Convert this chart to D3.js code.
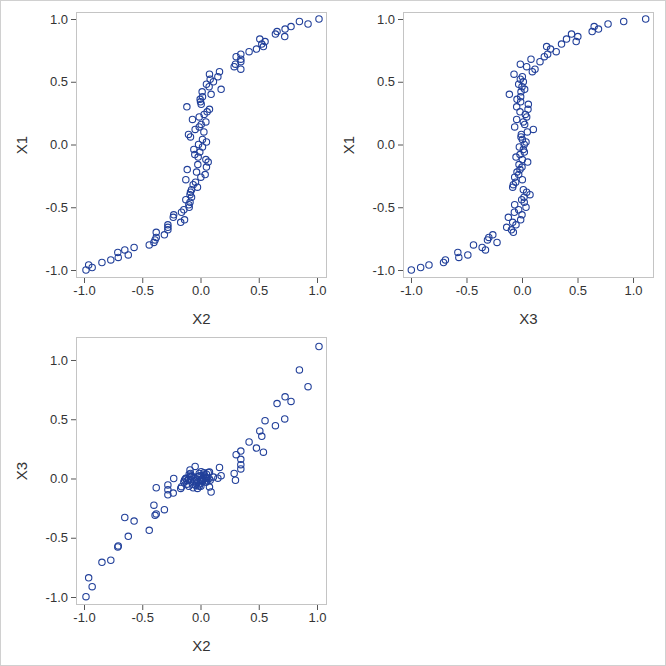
<!DOCTYPE html>
<html><head><meta charset="utf-8">
<script src="https://cdn.jsdelivr.net/npm/d3@7"></script>
<style>body{margin:0;background:#fff;} svg{display:block;}</style>
</head><body>
<script>
const X1 = [-1.00,-0.98,-0.96,-0.94,-0.92,-0.90,-0.88,-0.86,-0.84,-0.82,-0.80,-0.78,-0.76,-0.74,-0.72,-0.70,-0.68,-0.66,-0.64,-0.62,-0.60,-0.58,-0.56,-0.54,-0.52,-0.50,-0.48,-0.46,-0.44,-0.42,-0.40,-0.38,-0.36,-0.34,-0.32,-0.30,-0.28,-0.26,-0.24,-0.22,-0.20,-0.18,-0.16,-0.14,-0.12,-0.10,-0.08,-0.06,-0.04,-0.02,0.00,0.02,0.04,0.06,0.08,0.10,0.12,0.14,0.16,0.18,0.20,0.22,0.24,0.26,0.28,0.30,0.32,0.34,0.36,0.38,0.40,0.42,0.44,0.46,0.48,0.50,0.52,0.54,0.56,0.58,0.60,0.62,0.64,0.66,0.68,0.70,0.72,0.74,0.76,0.78,0.80,0.82,0.84,0.86,0.88,0.90,0.92,0.94,0.96,0.98,1.00];
const X2 = [-0.983,-0.93,-0.96,-0.846,-0.77,-0.706,-0.62,-0.71,-0.65,-0.57,-0.44,-0.40,-0.39,-0.38,-0.31,-0.38,-0.28,-0.28,-0.28,-0.17,-0.137,-0.234,-0.23,-0.163,-0.143,-0.097,-0.10,-0.09,-0.126,-0.077,-0.09,-0.086,-0.077,-0.026,-0.063,-0.043,-0.126,0.003,0.04,-0.034,-0.114,0.051,-0.023,0.066,0.046,-0.02,-0.049,-0.006,-0.057,0.017,-0.017,0.051,0.017,-0.086,-0.103,0.029,-0.046,-0.011,0.006,0.046,-0.069,-0.011,0.031,0.057,0.077,-0.117,0.006,0.0,-0.003,0.017,0.091,0.014,0.177,0.074,0.051,0.111,0.083,0.149,0.077,0.163,0.346,0.289,0.30,0.346,0.346,0.306,0.346,0.417,0.48,0.54,0.526,0.554,0.509,0.723,0.643,0.657,0.726,0.777,0.923,0.849,1.017];
const X3 = [-0.997,-0.913,-0.838,-0.707,-0.69,-0.569,-0.488,-0.578,-0.329,-0.359,-0.437,-0.225,-0.311,-0.299,-0.263,-0.078,-0.096,-0.138,-0.054,-0.084,-0.012,-0.123,0.0,-0.069,-0.03,0.036,-0.066,0.02,-0.003,0.018,0.072,0.042,0.012,-0.084,-0.078,-0.057,0.003,-0.066,-0.03,-0.045,-0.018,0.0,-0.027,0.051,0.003,-0.054,-0.018,0.021,0.012,-0.024,0.02,0.036,0.003,-0.009,-0.006,0.048,0.102,-0.066,0.024,0.012,-0.048,0.042,0.03,-0.018,0.054,-0.048,0.057,-0.012,-0.045,-0.012,-0.114,-0.009,0.024,0.0,-0.03,0.012,-0.015,0.003,-0.072,0.093,0.117,0.042,-0.015,0.162,0.081,0.201,0.231,0.308,0.257,0.222,0.356,0.488,0.401,0.503,0.446,0.632,0.689,0.65,0.775,0.916,1.114];
const tickValues = [-1.0,-0.5,0.0,0.5,1.0];
const tickLabels = ["-1.0","-0.5","0.0","0.5","1.0"];

const W = 666, H = 666;
const svg = d3.select("body").append("svg").attr("width", W).attr("height", H);
const FONT = "'Liberation Sans', Arial, sans-serif";
const MARK = "#22409a";

svg.append("rect").attr("x",0.5).attr("y",0.5).attr("width",W-1).attr("height",H-1)
  .attr("fill","#fff").attr("stroke","#d0d0d0");

function panel(xs, ys, box, xDom, yDom, xLab, yLab) {
  const x = d3.scaleLinear().domain(xDom).range([box.l, box.r]);
  const y = d3.scaleLinear().domain(yDom).range([box.b, box.t]);
  const g = svg.append("g");
  g.append("rect").attr("x", box.l + 0.5).attr("y", box.t + 0.5)
    .attr("width", box.r - box.l - 1).attr("height", box.b - box.t - 1)
    .attr("fill", "#fff").attr("stroke", "#c4c4c4");
  const fmt = d => tickLabels[tickValues.indexOf(d)];
  const ax = g.append("g").attr("transform", `translate(0,${box.b})`)
    .call(d3.axisBottom(x).tickValues(tickValues).tickFormat(fmt).tickSize(5).tickPadding(3));
  const ay = g.append("g").attr("transform", `translate(${box.l},0)`)
    .call(d3.axisLeft(y).tickValues(tickValues).tickFormat(fmt).tickSize(5).tickPadding(3));
  [ax, ay].forEach(a => {
    a.select(".domain").remove();
    a.selectAll("line").attr("stroke", "#555");
    a.selectAll("text").attr("font-family", FONT).attr("font-size", 13).attr("fill", "#333");
  });
  g.append("text").attr("x", (box.l + box.r) / 2).attr("y", box.b + 46)
    .attr("text-anchor", "middle").attr("font-family", FONT).attr("font-size", 15)
    .attr("fill", "#333").text(xLab);
  g.append("text").attr("transform", `translate(${box.l - 49},${(box.t + box.b) / 2}) rotate(-90)`)
    .attr("text-anchor", "middle").attr("font-family", FONT).attr("font-size", 15)
    .attr("fill", "#333").text(yLab);
  g.append("g").selectAll("circle").data(xs.map((v, i) => [v, ys[i]])).join("circle")
    .attr("cx", d => x(d[0])).attr("cy", d => y(d[1])).attr("r", 3.2)
    .attr("fill", "none").attr("stroke", MARK).attr("stroke-width", 1.1);
}

panel(X2, X1, {l:76, r:327, t:12, b:278}, [-1.0687, 1.0858], [-1.0637, 1.0558], "X2", "X1");
panel(X3, X1, {l:403, r:654, t:12, b:278}, [-1.072, 1.189], [-1.0637, 1.0558], "X3", "X1");
panel(X2, X3, {l:76, r:327, t:337, b:605}, [-1.0687, 1.0858], [-1.0675, 1.194], "X2", "X3");
</script>
</body></html>
